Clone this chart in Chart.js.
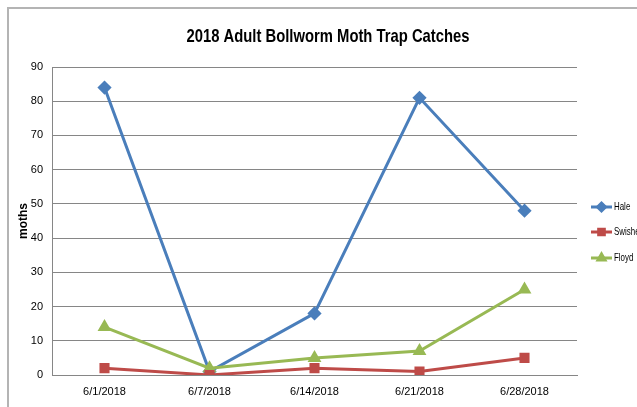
<!DOCTYPE html>
<html lang="en">
<head>
    <meta charset="UTF-8">
    <title>2018 Adult Bollworm Moth Trap Catches</title>
    <script src="https://cdn.jsdelivr.net/npm/chart.js"></script>
    <style>
        html, body { margin: 0; padding: 0; background: #fff; overflow: hidden; }
        #wrap { width: 637px; height: 407px; }
    </style>
</head>
<body>
    <div id="wrap"><canvas id="mothChart" width="637" height="407"></canvas></div>

    <script>
        // datos
        const fechas = ["6/1/2018", "6/7/2018", "6/14/2018", "6/21/2018", "6/28/2018"];
        const hale = [84, 1, 18, 81, 48];
        const swisher = [2, 0, 2, 1, 5];
        const floyd = [14, 2, 5, 7, 25];
        const yTicks = [0, 10, 20, 30, 40, 50, 60, 70, 80, 90];

        const FONT = "'Liberation Sans', sans-serif";

        // texto comprimido a lo ancho (la fuente original es estrecha)
        function textoEstrecho(ctx, txt, x, y, factor) {
            ctx.save();
            ctx.translate(x, y);
            ctx.scale(factor, 1);
            ctx.fillText(txt, 0, 0);
            ctx.restore();
        }

        // marco gris, titulo y leyenda
        const decoPlugin = {
            id: "deco",
            beforeDraw(chart) {
                const ctx = chart.ctx;
                ctx.save();
                ctx.strokeStyle = "#b4b4b4";
                ctx.lineWidth = 2;
                ctx.beginPath();
                ctx.moveTo(8, 407);
                ctx.lineTo(8, 8);
                ctx.lineTo(637, 8);
                ctx.stroke();
                ctx.restore();
            },
            afterDraw(chart) {
                const ctx = chart.ctx;
                ctx.save();
                ctx.fillStyle = "#000";
                ctx.font = "bold 19px " + FONT;
                ctx.textAlign = "center";
                ctx.textBaseline = "middle";
                const titulo = "2018 Adult Bollworm Moth Trap Catches";
                const f = 283 / ctx.measureText(titulo).width;
                textoEstrecho(ctx, titulo, 328, 37, f);

                const ys = [207, 232, 258];
                chart.data.datasets.forEach((ds, i) => {
                    const y = ys[i];
                    ctx.strokeStyle = ds.borderColor;
                    ctx.fillStyle = ds.borderColor;
                    ctx.lineWidth = 3;
                    ctx.beginPath();
                    ctx.moveTo(591, y);
                    ctx.lineTo(612, y);
                    ctx.stroke();
                    Chart.helpers.drawPoint(ctx, {
                        pointStyle: ds.pointStyle,
                        radius: 4,
                        rotation: 0,
                        borderWidth: 1
                    }, 601.5, y);
                    ctx.fillStyle = "#000";
                    ctx.font = "11px " + FONT;
                    ctx.textAlign = "left";
                    textoEstrecho(ctx, ds.label, 614, y, 0.72);
                });
                ctx.restore();
            }
        };

        function serie(label, data, color, style, r, orden) {
            return {
                label: label,
                data: data,
                borderColor: color,
                backgroundColor: color,
                pointBackgroundColor: color,
                pointBorderColor: color,
                borderWidth: 3,
                pointStyle: style,
                pointRadius: r,
                pointHoverRadius: r,
                order: orden,
                tension: 0
            };
        }

        const datasets = [
            serie("Hale", hale, "#4a7ebb", "rectRot", 5, 3),
            serie("Swisher", swisher, "#be4b48", "rect", 5, 1),
            serie("Floyd", floyd, "#98b954", "triangle", 5, 2)
        ];

        const tickFont = { family: FONT, size: 11 };

        new Chart(document.getElementById("mothChart"), {
            type: "line",
            data: { labels: fechas, datasets: datasets },
            plugins: [decoPlugin],
            options: {
                responsive: false,
                animation: false,
                devicePixelRatio: 1,
                layout: { padding: { left: 0, right: 60, top: 67, bottom: 0 } },
                plugins: {
                    legend: { display: false },
                    title: { display: false },
                    tooltip: { enabled: false }
                },
                scales: {
                    x: {
                        offset: true,
                        grid: { display: false, drawTicks: false },
                        border: { display: true, color: "#868686", width: 1 },
                        ticks: {
                            color: "#000",
                            padding: 10,
                            maxRotation: 0,
                            font: tickFont
                        },
                        afterFit(scale) { scale.height = 32; }
                    },
                    y: {
                        min: 0,
                        max: 90,
                        afterBuildTicks(scale) {
                            scale.ticks = yTicks.map(v => ({ value: v }));
                        },
                        grid: { color: "#868686", drawTicks: false },
                        border: { display: true, color: "#868686", width: 1 },
                        ticks: {
                            color: "#000",
                            padding: 9,
                            font: tickFont
                        },
                        title: {
                            display: true,
                            text: "moths",
                            color: "#000",
                            font: { family: FONT, size: 12, weight: "bold" },
                            padding: { top: 16, bottom: 0 }
                        },
                        afterFit(scale) { scale.width = 52; }
                    }
                }
            }
        });
    </script>
</body>
</html>
